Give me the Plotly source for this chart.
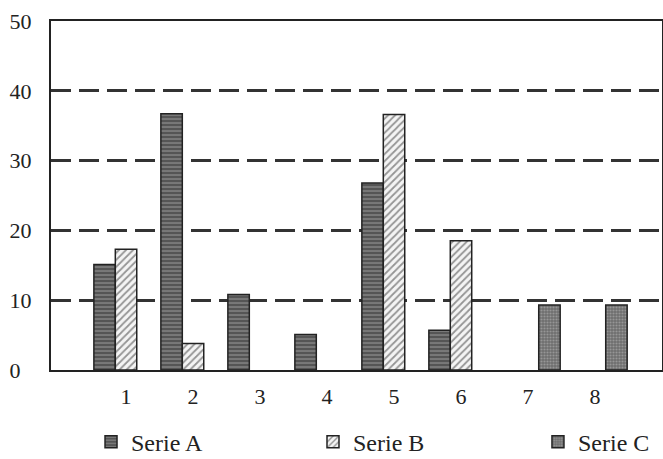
import plotly.graph_objects as go

categories = [1, 2, 3, 4, 5, 6, 7, 8]
tick_labels = ["1", "2", "3", "4", "5", "6", "7", "8"]
serie_a = [15.1, 36.7, 10.8, 5.1, 26.8, 5.7, None, None]
serie_b = [17.3, 3.8, None, None, 36.6, 18.5, None, None]
serie_c = [None, None, None, None, None, None, 9.3, 9.3]
y_ticks = [0, 10, 20, 30, 40, 50]
y_tick_labels = ["0\u2007", "10", "20", "30", "40", "50"]

FONT = "Liberation Serif"

fig = go.Figure()
fig.add_trace(go.Bar(
    x=categories, y=serie_a, name="Serie A", legend="legend",
    marker=dict(color="#555555", line=dict(color="#222", width=1.5),
                pattern=dict(shape="-", fgcolor="#c8c8c8", bgcolor="#555555",
                             size=4, solidity=0.3, fillmode="overlay")),
))
fig.add_trace(go.Bar(
    x=categories, y=serie_b, name="Serie B", legend="legend2",
    marker=dict(color="#f4f4f4", line=dict(color="#222", width=1.5),
                pattern=dict(shape="/", fgcolor="#333", bgcolor="#f4f4f4",
                             size=5, solidity=0.35, fillmode="overlay")),
))
fig.add_trace(go.Bar(
    x=categories, y=serie_c, name="Serie C", legend="legend3",
    marker=dict(color="#6e6e6e", line=dict(color="#222", width=1.5),
                pattern=dict(shape=".", fgcolor="#bdbdbd", bgcolor="#6e6e6e",
                             size=3, solidity=0.4, fillmode="overlay")),
))

leg_common = dict(orientation="h", xanchor="left", y=-0.207, yanchor="middle",
                  font=dict(family=FONT, size=24, color="#222"),
                  bgcolor="rgba(0,0,0,0)", borderwidth=0)

fig.update_layout(
    width=663, height=459,
    margin=dict(l=51, r=1, t=21, b=89, autoexpand=False),
    barmode="group", bargap=0.04, bargroupgap=0,
    paper_bgcolor="white", plot_bgcolor="white",
    font=dict(family=FONT, color="#222", size=20),
    showlegend=True,
    legend=dict(x=0.0655, **leg_common),
    legend2=dict(x=0.4288, **leg_common),
    legend3=dict(x=0.797, **leg_common),
)
fig.update_xaxes(
    range=[-0.12, 9.0], tickvals=categories, ticktext=tick_labels,
    showgrid=False, zeroline=False, showline=True, linecolor="#222", linewidth=2,
    mirror=True, ticks="", ticklabelstandoff=6, automargin=False,
    tickfont=dict(family=FONT, size=22, color="#222"),
)
fig.update_yaxes(
    range=[0, 50], tickvals=y_ticks, ticktext=y_tick_labels,
    showgrid=True, gridcolor="#333", gridwidth=3, griddash="20px,8px",
    zeroline=False, showline=True, linecolor="#222", linewidth=2, mirror=True,
    ticks="", ticklabelstandoff=13, automargin=False,
    tickfont=dict(family=FONT, size=22, color="#222"),
)

fig.write_html(
    "out.html",
    config={"displayModeBar": False},
    post_script="document.body.style.margin='0';document.body.style.overflow='hidden';",
)
